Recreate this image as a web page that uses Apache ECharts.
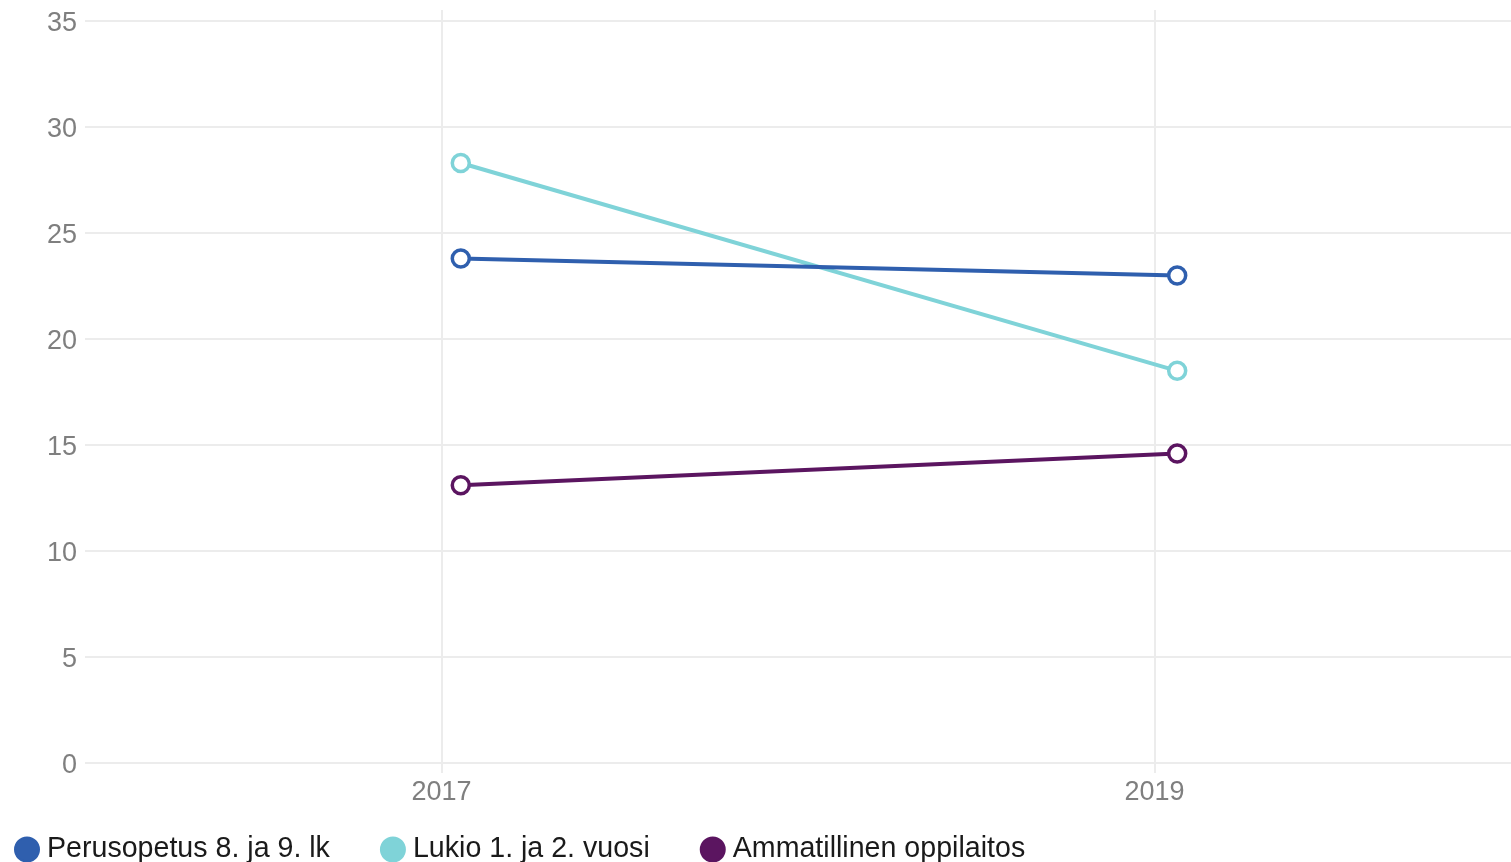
<!DOCTYPE html>
<html>
<head>
<meta charset="utf-8">
<script src="https://cdn.jsdelivr.net/npm/echarts@6/dist/echarts.min.js"></script>
<style>
html,body{margin:0;padding:0;background:#fff;}
#chart{width:1511px;height:862px;}
</style>
</head>
<body>
<div id="chart"></div>
<script>
// Data
const axisYears = ['2016', '2017', '2018', '2019', '2020'];
const shownYears = ['2017', '2019'];
const pointDates = ['2017-01-20', '2019-01-24'];
const seriesNames = ['Perusopetus 8. ja 9. lk', 'Lukio 1. ja 2. vuosi', 'Ammatillinen oppilaitos'];
const perusopetus = [23.8, 23.0];
const lukio = [28.3, 18.5];
const ammatillinen = [13.1, 14.6];
const colors = ['#2f5fae', '#7fd3d8', '#5b1560'];

const chart = echarts.init(document.getElementById('chart'));
const valuesList = [perusopetus, lukio, ammatillinen];
const font = 'Liberation Sans, Arial, sans-serif';

const series = seriesNames.map((name, i) => ({
  name: name,
  type: 'line',
  xAxisIndex: 1,
  yAxisIndex: 1,
  data: pointDates.map((d, j) => [d, valuesList[i][j]]),
  symbol: 'circle',
  symbolSize: 17,
  showSymbol: true,
  lineStyle: { color: colors[i], width: 4 },
  itemStyle: { color: '#ffffff', borderColor: colors[i], borderWidth: 3.5 },
  emphasis: { disabled: true },
  z: 3 - i + 2
}));

const showFn = (idx, val) => shownYears.indexOf(val) >= 0;

chart.setOption({
  animation: false,
  backgroundColor: '#ffffff',
  color: colors,
  legend: {
    data: seriesNames.map((n, i) => ({ name: n, itemStyle: { color: colors[i] } })),
    left: 9,
    top: 830,
    icon: 'circle',
    itemWidth: 30,
    itemHeight: 24,
    itemGap: 50,
    textStyle: { fontFamily: font, fontSize: 28.6, color: '#1a1a1a' }
  },
  grid: [
    { left: 85, right: 0, top: 10, bottom: 89 },
    { left: 85, right: 0, top: 21, bottom: 99 }
  ],
  xAxis: [
    {
      gridIndex: 0,
      type: 'category',
      data: axisYears,
      boundaryGap: false,
      axisLine: { show: false },
      axisTick: { show: false },
      axisLabel: { interval: showFn, color: '#7f7f7f', fontFamily: font, fontSize: 27, margin: 6 },
      splitLine: { show: true, interval: showFn, lineStyle: { color: '#ececec', width: 2 } }
    },
    {
      gridIndex: 1,
      type: 'time',
      min: '2016-01-01',
      max: '2020-01-01',
      show: false
    }
  ],
  yAxis: [
    { gridIndex: 0, type: 'value', show: false, min: 0, max: 1, splitLine: { show: false } },
    {
      gridIndex: 1,
      type: 'value',
      min: 0,
      max: 35,
      interval: 5,
      axisLine: { show: false },
      axisTick: { show: false },
      axisLabel: {
        margin: 8,
        formatter: '{v|{value}}',
        rich: { v: { color: '#7f7f7f', fontFamily: font, fontSize: 27, padding: [5, 0, 0, 0] } }
      },
      splitLine: { lineStyle: { color: '#ececec', width: 2 } }
    }
  ],
  series: series
});
</script>
</body>
</html>
